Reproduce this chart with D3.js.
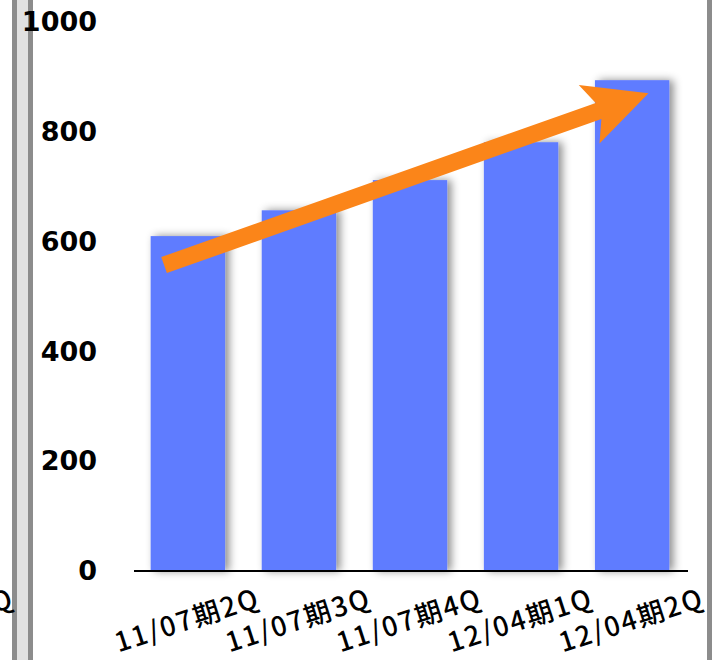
<!DOCTYPE html>
<html>
<head>
<meta charset="utf-8">
<script src="https://cdn.jsdelivr.net/npm/d3@7"></script>
<style>
  body { margin: 0; background: #fff; }
  svg { display: block; }
</style>
</head>
<body>
<svg id="chart" width="714" height="660"></svg>
<script>
// quarterly values
var categories = ["11/07期2Q", "11/07期3Q", "11/07期4Q", "12/04期1Q", "12/04期2Q"];
var values = [610, 657, 712, 781, 894];
var yTicks = [0, 200, 400, 600, 800, 1000];

var svg = d3.select("#chart");

var x = d3.scaleBand()
    .domain(categories)
    .range([134, 686])
    .paddingInner(0.33)
    .paddingOuter(0.15);

var y = d3.scaleLinear()
    .domain([0, 1000])
    .range([571, 22]);

// soft shadow behind the bars
var defs = svg.append("defs");
var shadow = defs.append("filter")
    .attr("id", "barShadow")
    .attr("x", "-30%").attr("y", "-10%")
    .attr("width", "160%").attr("height", "130%");
shadow.append("feDropShadow")
    .attr("dx", 4).attr("dy", 0)
    .attr("stdDeviation", 4)
    .attr("flood-color", "#000")
    .attr("flood-opacity", 0.45);

// slide frame pieces
svg.append("rect").attr("x", 12).attr("y", 0).attr("width", 21).attr("height", 660).attr("fill", "#8c8c8c");
svg.append("rect").attr("x", 17).attr("y", 0).attr("width", 11).attr("height", 660).attr("fill", "#e1e1e1");
svg.append("rect").attr("x", 707).attr("y", 0).attr("width", 5).attr("height", 660).attr("fill", "#8c8c8c");

var labelFont = "'Noto Sans CJK JP', sans-serif";
var labelAngle = -18;

// left neighbour's label, cut by the edge as in the slide
svg.append("text")
    .attr("transform", "translate(16,606) rotate(" + labelAngle + ")")
    .attr("text-anchor", "end")
    .attr("font-family", labelFont)
    .attr("font-weight", 500)
    .attr("font-size", 27)
    .attr("letter-spacing", 2)
    .attr("fill", "#000")
    .text("12/04期2Q");

// bars
svg.append("g").selectAll("rect")
  .data(values)
  .enter()
  .append("rect")
    .attr("x", function(d, i) { return x(categories[i]); })
    .attr("y", function(d) { return y(d); })
    .attr("width", x.bandwidth())
    .attr("height", function(d) { return y(0) - y(d); })
    .attr("fill", "#5f7bff")
    .attr("filter", "url(#barShadow)");

// baseline
svg.append("line")
    .attr("x1", 134).attr("x2", 688)
    .attr("y1", y(0)).attr("y2", y(0))
    .attr("stroke", "#000")
    .attr("stroke-width", 2);

// y tick labels
var yAxis = svg.append("g")
    .attr("transform", "translate(97,0)")
    .call(d3.axisLeft(y).tickValues(yTicks).tickFormat(d3.format("d")).tickSize(0).tickPadding(0));
yAxis.select(".domain").remove();
yAxis.selectAll("text")
    .attr("font-family", "'DejaVu Sans', sans-serif")
    .attr("font-weight", "bold")
    .attr("font-size", 27)
    .attr("fill", "#000");

// rotated category labels
svg.append("g").selectAll("text")
  .data(categories)
  .enter()
  .append("text")
    .attr("transform", function(d) {
      return "translate(" + (x(d) + x.bandwidth() / 2 + 74) + ",606) rotate(" + labelAngle + ")";
    })
    .attr("text-anchor", "end")
    .attr("font-family", labelFont)
    .attr("font-weight", 500)
    .attr("font-size", 27)
    .attr("letter-spacing", 2)
    .attr("fill", "#000")
    .text(function(d) { return d; });

// trend arrow, from first bar to last bar
var last = categories.length - 1;
var x0 = x(categories[0]) + x.bandwidth() * 0.18,
    y0 = y(values[0]) + 29,
    x1 = x(categories[last]) + x.bandwidth() * 0.72,
    y1 = y(values[last]) + 13;
var len = Math.hypot(x1 - x0, y1 - y0),
    ang = Math.atan2(y1 - y0, x1 - x0) * 180 / Math.PI;
var shaftHalf = 8.5, headLen = 63, headHalf = 31, notch = 53;
var arrowPts = [
  [0, -shaftHalf], [len - notch, -shaftHalf], [len - headLen, -headHalf],
  [len, 0],
  [len - headLen, headHalf], [len - notch, shaftHalf], [0, shaftHalf]
];
svg.append("path")
    .attr("transform", "translate(" + x0 + "," + y0 + ") rotate(" + ang + ")")
    .attr("d", d3.line()(arrowPts) + "Z")
    .attr("fill", "#fb8519");
</script>
</body>
</html>
